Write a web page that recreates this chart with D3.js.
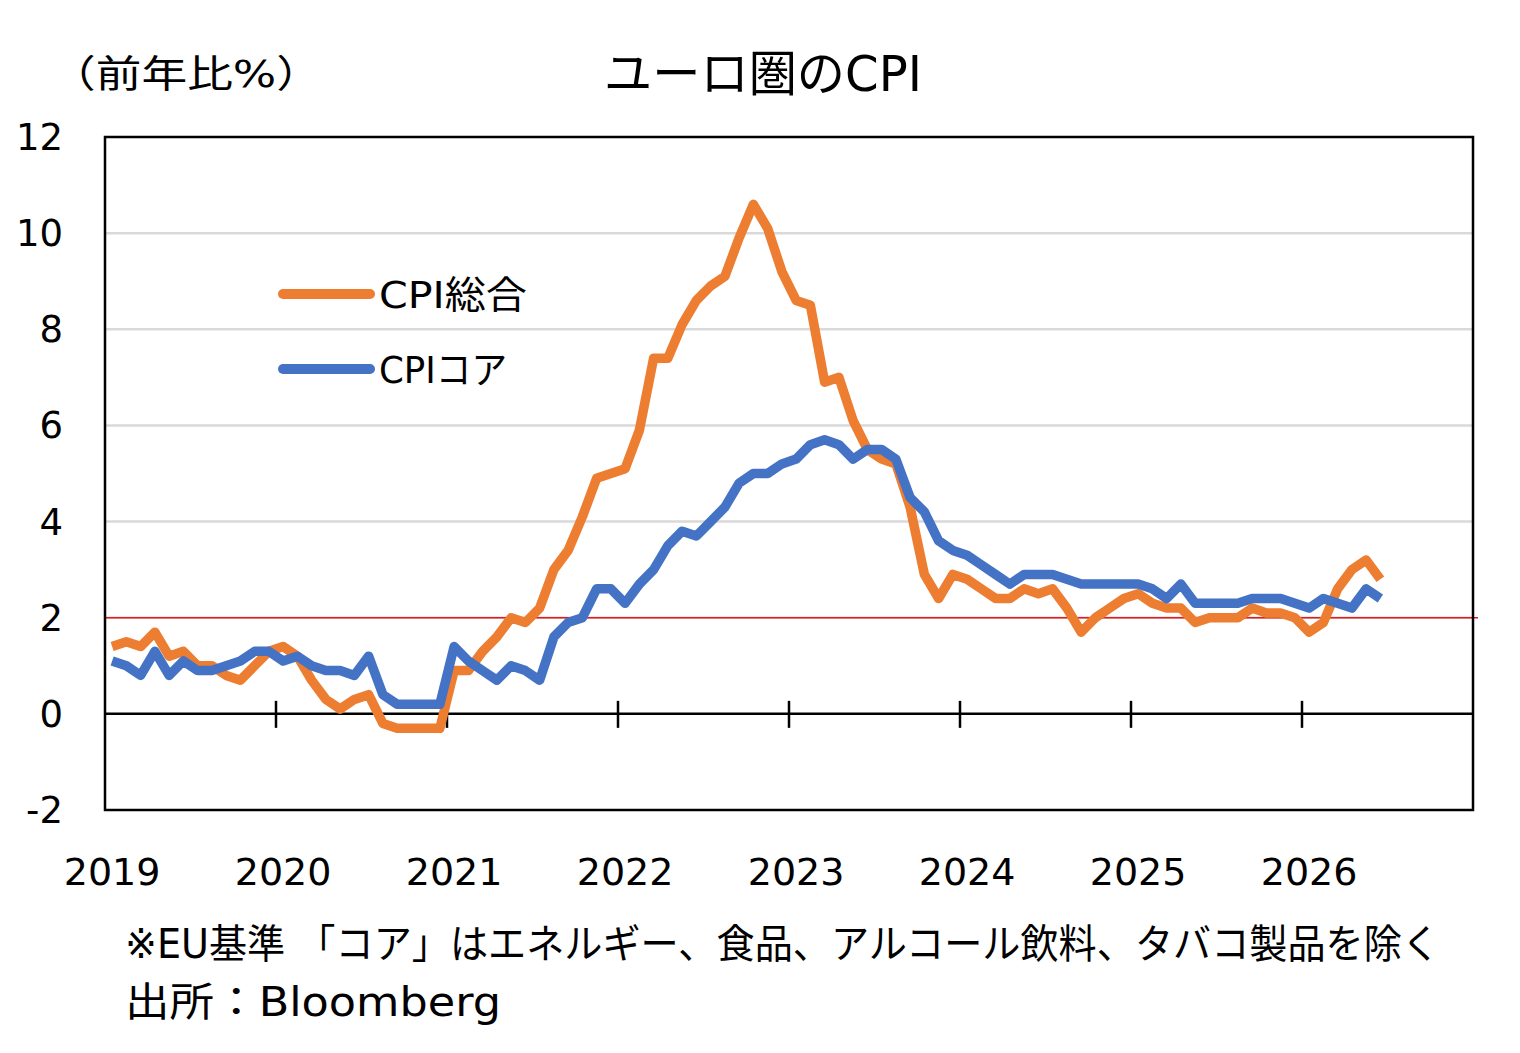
<!DOCTYPE html>
<html>
<head>
<meta charset="utf-8">
<script src="https://cdn.jsdelivr.net/npm/d3@7"></script>
<style>
  body { margin: 0; background: #fff; }
  svg { display: block; }
  text { font-family: "DejaVu Sans", "Noto Sans CJK JP", sans-serif; fill: #000; }
</style>
</head>
<body>
<div id="chart"></div>
<script>
// monthly, Jan 2019 - Jun 2026 (y/y %)
const years = [2019, 2020, 2021, 2022, 2023, 2024, 2025, 2026];
const yTicks = [-2, 0, 2, 4, 6, 8, 10, 12];

const cpiAll = [
  1.4, 1.5, 1.4, 1.7, 1.2, 1.3, 1.0, 1.0, 0.8, 0.7, 1.0, 1.3,
  1.4, 1.2, 0.7, 0.3, 0.1, 0.3, 0.4, -0.2, -0.3, -0.3, -0.3, -0.3,
  0.9, 0.9, 1.3, 1.6, 2.0, 1.9, 2.2, 3.0, 3.4, 4.1, 4.9, 5.0,
  5.1, 5.9, 7.4, 7.4, 8.1, 8.6, 8.9, 9.1, 9.9, 10.6, 10.1, 9.2,
  8.6, 8.5, 6.9, 7.0, 6.1, 5.5, 5.3, 5.2, 4.3, 2.9, 2.4, 2.9,
  2.8, 2.6, 2.4, 2.4, 2.6, 2.5, 2.6, 2.2, 1.7, 2.0, 2.2, 2.4,
  2.5, 2.3, 2.2, 2.2, 1.9, 2.0, 2.0, 2.0, 2.2, 2.1, 2.1, 2.0,
  1.7, 1.9, 2.6, 3.0, 3.2, 2.8
];

const cpiCore = [
  1.1, 1.0, 0.8, 1.3, 0.8, 1.1, 0.9, 0.9, 1.0, 1.1, 1.3, 1.3,
  1.1, 1.2, 1.0, 0.9, 0.9, 0.8, 1.2, 0.4, 0.2, 0.2, 0.2, 0.2,
  1.4, 1.1, 0.9, 0.7, 1.0, 0.9, 0.7, 1.6, 1.9, 2.0, 2.6, 2.6,
  2.3, 2.7, 3.0, 3.5, 3.8, 3.7, 4.0, 4.3, 4.8, 5.0, 5.0, 5.2,
  5.3, 5.6, 5.7, 5.6, 5.3, 5.5, 5.5, 5.3, 4.5, 4.2, 3.6, 3.4,
  3.3, 3.1, 2.9, 2.7, 2.9, 2.9, 2.9, 2.8, 2.7, 2.7, 2.7, 2.7,
  2.7, 2.6, 2.4, 2.7, 2.3, 2.3, 2.3, 2.3, 2.4, 2.4, 2.4, 2.3,
  2.2, 2.4, 2.3, 2.2, 2.6, 2.4
];

const target = 2;

const W = 1520, H = 1053;
const plotL = 105, plotR = 1473, plotT = 137, plotB = 810;

const svg = d3.select("#chart").append("svg")
    .attr("width", W)
    .attr("height", H);

const x = d3.scaleLinear().domain([0, years.length * 12]).range([plotL, plotR]);
const y = d3.scaleLinear().domain([-2, 12]).range([plotB, plotT]);

// grid
svg.append("g")
    .selectAll("line")
    .data(yTicks.filter(d => d > 0 && d < 12))
    .enter()
    .append("line")
    .attr("x1", plotL).attr("x2", plotR)
    .attr("y1", d => y(d)).attr("y2", d => y(d))
    .attr("stroke", "#d9d9d9")
    .attr("stroke-width", 2.5);

// 2% line
svg.append("line")
    .attr("x1", plotL).attr("x2", plotR + 5)
    .attr("y1", y(target)).attr("y2", y(target))
    .attr("stroke", "#e81818")
    .attr("stroke-width", 1.6);

// zero axis with crossing ticks
svg.append("line")
    .attr("x1", plotL).attr("x2", plotR)
    .attr("y1", y(0)).attr("y2", y(0))
    .attr("stroke", "#000")
    .attr("stroke-width", 2.5);

svg.append("g")
    .selectAll("line")
    .data(years.slice(1))
    .enter()
    .append("line")
    .attr("x1", (d, i) => x((i + 1) * 12)).attr("x2", (d, i) => x((i + 1) * 12))
    .attr("y1", y(0) - 13).attr("y2", y(0) + 14)
    .attr("stroke", "#000")
    .attr("stroke-width", 2.5);

// plot frame
svg.append("rect")
    .attr("x", plotL).attr("y", plotT)
    .attr("width", plotR - plotL).attr("height", plotB - plotT)
    .attr("fill", "none")
    .attr("stroke", "#000")
    .attr("stroke-width", 2.5);

// y labels
svg.append("g")
    .selectAll("text")
    .data(yTicks)
    .enter()
    .append("text")
    .attr("x", 63)
    .attr("y", d => y(d) + 13)
    .attr("text-anchor", "end")
    .style("font-size", "37px")
    .text(d => d);

// year labels
svg.append("g")
    .selectAll("text")
    .data(years)
    .enter()
    .append("text")
    .attr("x", (d, i) => x(i * 12 + 0.5))
    .attr("y", 885)
    .attr("text-anchor", "middle")
    .style("font-size", "38px")
    .text(d => d);

// lines
const line = d3.line()
    .x((d, i) => x(i + 0.5))
    .y(d => y(d));

const series = [
    { name: "CPI総合", values: cpiAll, color: "#ed7d31", len: 148 },
    { name: "CPIコア", values: cpiCore, color: "#4472c4", len: 128 }
];

svg.append("path")
    .attr("d", line(cpiAll))
    .attr("fill", "none")
    .attr("stroke", series[0].color)
    .attr("stroke-width", 9.5)
    .attr("stroke-linejoin", "round");

svg.append("path")
    .attr("d", line(cpiCore))
    .attr("fill", "none")
    .attr("stroke", series[1].color)
    .attr("stroke-width", 9.5)
    .attr("stroke-linejoin", "round");

// legend
const legend = svg.append("g")
    .selectAll("g")
    .data(series)
    .enter()
    .append("g")
    .attr("transform", (d, i) => `translate(0,${294 + i * 75})`);

legend.append("line")
    .attr("x1", 283).attr("x2", 370)
    .attr("stroke", d => d.color)
    .attr("stroke-width", 10)
    .attr("stroke-linecap", "round");

legend.append("text")
    .attr("x", 379)
    .attr("y", 14)
    .attr("textLength", d => d.len)
    .attr("lengthAdjust", "spacingAndGlyphs")
    .style("font-size", "38px")
    .text(d => d.name);

// titles
svg.append("text")
    .attr("x", 763)
    .attr("y", 91)
    .attr("textLength", 318)
    .attr("text-anchor", "middle")
    .attr("lengthAdjust", "spacingAndGlyphs")
    .style("font-size", "49px")
    .text("ユーロ圏のCPI");

svg.append("text")
    .attr("x", 50)
    .attr("y", 87)
    .attr("textLength", 272)
    .attr("lengthAdjust", "spacingAndGlyphs")
    .style("font-size", "38px")
    .text("（前年比%）");

// footnotes
svg.append("text")
    .attr("x", 125)
    .attr("y", 958)
    .attr("textLength", 1315)
    .attr("lengthAdjust", "spacingAndGlyphs")
    .style("font-size", "40px")
    .text("※EU基準 「コア」はエネルギー、食品、アルコール飲料、タバコ製品を除く");

svg.append("text")
    .attr("x", 125)
    .attr("y", 1016)
    .attr("textLength", 376)
    .attr("lengthAdjust", "spacingAndGlyphs")
    .style("font-size", "40px")
    .text("出所：Bloomberg");
</script>
</body>
</html>
